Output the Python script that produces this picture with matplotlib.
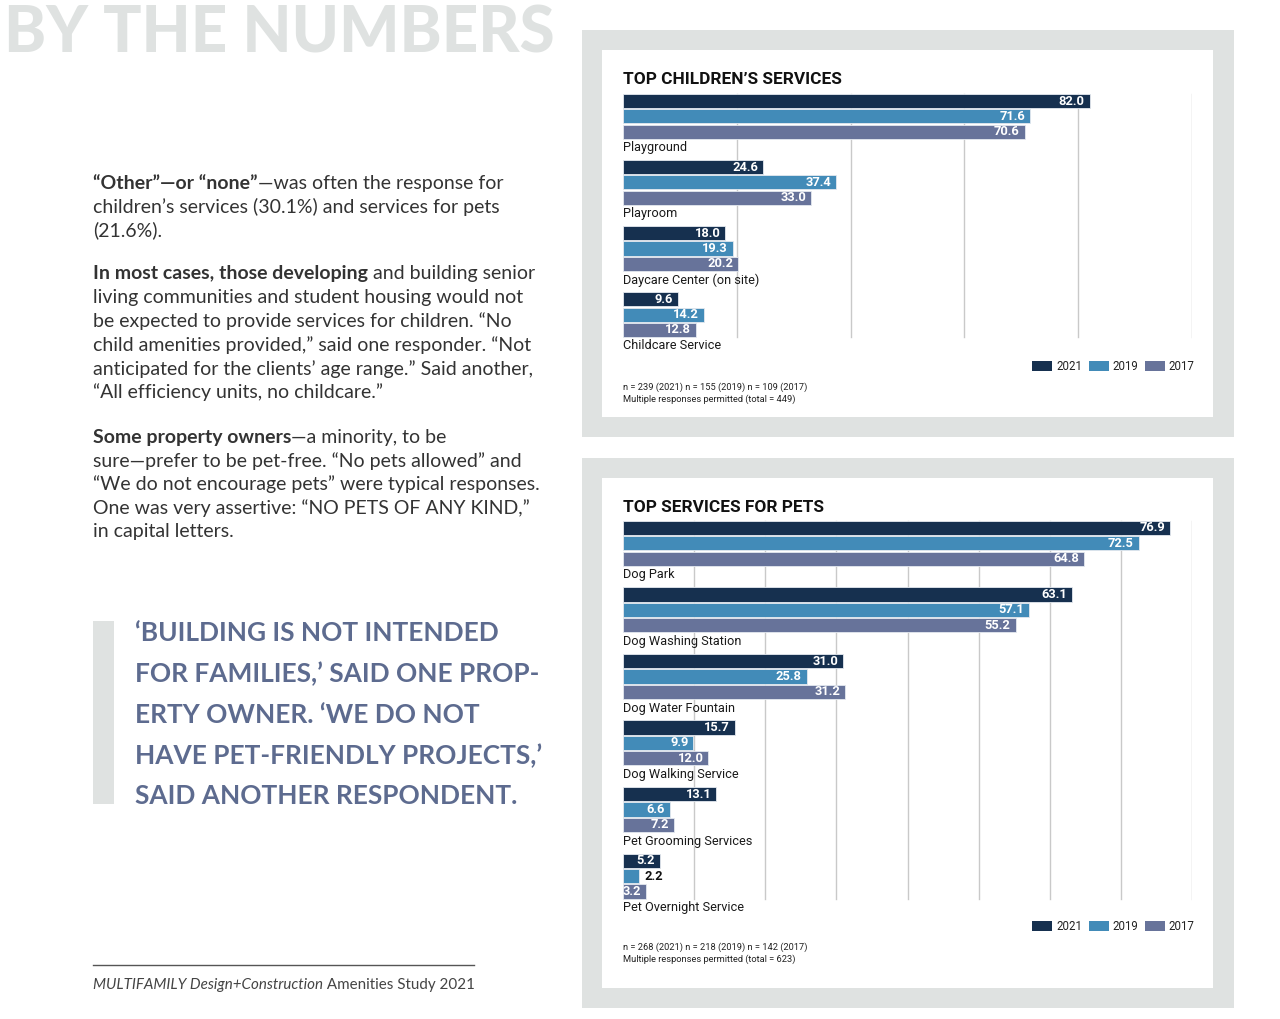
import matplotlib
matplotlib.use("Agg")
import matplotlib.pyplot as plt
from matplotlib.patches import Rectangle

# данные
years = ["2021", "2019", "2017"]
colors = ["#16304f", "#428bb8", "#67739a"]

kids_cats = ["Playground", "Playroom", "Daycare Center (on site)", "Childcare Service"]
kids_2021 = [82.0, 24.6, 18.0, 9.6]
kids_2019 = [71.6, 37.4, 19.3, 14.2]
kids_2017 = [70.6, 33.0, 20.2, 12.8]

pets_cats = ["Dog Park", "Dog Washing Station", "Dog Water Fountain",
             "Dog Walking Service", "Pet Grooming Services", "Pet Overnight Service"]
pets_2021 = [76.9, 63.1, 31.0, 15.7, 13.1, 5.2]
pets_2019 = [72.5, 57.1, 25.8, 9.9, 6.6, 2.2]
pets_2017 = [64.8, 55.2, 31.2, 12.0, 7.2, 3.2]

W, H = 1280, 1019
fig = plt.figure(figsize=(W / 100, H / 100), dpi=100)
fig.patch.set_facecolor("white")

# фон в пиксельных координатах
bg = fig.add_axes([0, 0, 1, 1], zorder=0)
bg.set_xlim(0, W)
bg.set_ylim(H, 0)
bg.axis("off")

BODY = "Lato"
CHART = "Roboto"
GRAY = "#dfe2e1"

bg.text(4, 52, "BY THE NUMBERS", fontsize=45.8, fontweight="black", family=BODY,
        color=GRAY, va="baseline", ha="left")

# панели
for y0, y1 in [(30, 437), (458, 1008)]:
    bg.add_patch(Rectangle((582, y0), 652, y1 - y0, color=GRAY, lw=0))
    bg.add_patch(Rectangle((602, y0 + 20), 611, y1 - y0 - 40, color="white", lw=0))

fig.canvas.draw()
renderer = fig.canvas.get_renderer()


def runs(x, y, parts, size, color="#333333", family=BODY):
    for txt, weight, style in parts:
        t = bg.text(x, y, txt, fontsize=size, fontweight=weight, style=style,
                    family=family, color=color, va="center", ha="left")
        x += t.get_window_extent(renderer).width


# основной текст
body_size = 14.0
paras = [
    (183, [[("“Other”—or “none”", "bold", "normal"), ("—was often the response for", "normal", "normal")],
           [("children’s services (30.1%) and services for pets", "normal", "normal")],
           [("(21.6%).", "normal", "normal")]]),
    (274, [[("In most cases, those developing", "bold", "normal"), (" and building senior", "normal", "normal")],
           [("living communities and student housing would not", "normal", "normal")],
           [("be expected to provide services for children. “No", "normal", "normal")],
           [("child amenities provided,” said one responder. “Not", "normal", "normal")],
           [("anticipated for the clients’ age range.” Said another,", "normal", "normal")],
           [("“All efficiency units, no childcare.”", "normal", "normal")]]),
    (437, [[("Some property owners", "bold", "normal"), ("—a minority, to be", "normal", "normal")],
           [("sure—prefer to be pet-free. “No pets allowed” and", "normal", "normal")],
           [("“We do not encourage pets” were typical responses.", "normal", "normal")],
           [("One was very assertive: “NO PETS OF ANY KIND,”", "normal", "normal")],
           [("in capital letters.", "normal", "normal")]]),
]
for y0, lines in paras:
    for i, parts in enumerate(lines):
        runs(93, y0 + i * 23.7, parts, body_size)

# цитата
bg.add_patch(Rectangle((93, 621), 21, 183, color=GRAY, lw=0))
quote = ["‘BUILDING IS NOT INTENDED", "FOR FAMILIES,’ SAID ONE PROP-",
         "ERTY OWNER. ‘WE DO NOT", "HAVE PET-FRIENDLY PROJECTS,’",
         "SAID ANOTHER RESPONDENT."]
for i, q in enumerate(quote):
    bg.text(135, 633 + i * 40.8, q, fontsize=18.9, fontweight="bold", family=BODY,
            color="#5d6b8f", va="center", ha="left")

# подпись
bg.plot([93, 474], [965, 965], color="#555555", lw=1)
runs(93, 985, [("MULTIFAMILY Design+Construction", "normal", "italic"),
               (" Amenities Study 2021", "normal", "normal")], 10.9, color="#444444")


def chart(title, title_y, cats, series, xmax, step, top_px, pitch, notes, legend_y):
    G = 4.32
    n = len(cats)
    bottom = (n - 1) * G + 3.6
    height_px = (bottom + 0.5) * pitch
    ax = fig.add_axes([623 / W, 1 - (top_px + height_px) / H, (1192 - 623) / W, height_px / H],
                      zorder=1)
    ax.set_xlim(0, xmax)
    ax.set_ylim(bottom, -0.5)
    ax.axis("off")
    ax.patch.set_alpha(0)

    last = (n - 1) * G + 2.46
    for gx in range(step, xmax + 1, step):
        ax.plot([gx, gx], [-0.46, last], color="#c9c9c9", lw=1, zorder=0)

    for k, vals in enumerate(series):
        for i, v in enumerate(vals):
            y = i * G + k
            ax.barh(y, v, height=0.92, color=colors[k], edgecolor="#e4e9ef", lw=0.6, zorder=2)
            if v < 3:
                ax.annotate(f"{v:.1f}", (v, y), xytext=(4, 0), textcoords="offset points",
                            ha="left", va="center", fontsize=9.3, fontweight="bold",
                            family=CHART, color="#111111", zorder=3)
            else:
                ax.annotate(f"{v:.1f}", (v, y), xytext=(-3.5, 0), textcoords="offset points",
                            ha="right", va="center", fontsize=9.3, fontweight="bold",
                            family=CHART, color="white", zorder=3)
    for i, c in enumerate(cats):
        ax.text(0, i * G + 3.05, c, ha="left", va="center", fontsize=9.2,
                family=CHART, color="#1a1a1a", zorder=3)

    bg.text(623, title_y, title, fontsize=12.4, fontweight="bold", family=CHART,
            color="#111111", va="center", ha="left")

    for (sx, tx), yr, col in zip([(1032, 1056), (1089, 1112), (1145, 1168)], years, colors):
        bg.add_patch(Rectangle((sx, legend_y - 5), 20, 10, color=col, lw=0))
        bg.text(tx, legend_y, yr, fontsize=8.3, family=CHART, color="#222222",
                va="center", ha="left")
    for j, nt in enumerate(notes):
        bg.text(623, legend_y + 21 + j * 12.5, nt, fontsize=6.7, family=CHART,
                color="#222222", va="center", ha="left")


chart("TOP CHILDREN’S SERVICES", 79, kids_cats, [kids_2021, kids_2019, kids_2017],
      100, 20, 94 - 0.5 * 15.3 + 7, 15.3,
      ["n = 239 (2021) n = 155 (2019) n = 109 (2017)",
       "Multiple responses permitted (total = 449)"], 366)

chart("TOP SERVICES FOR PETS", 507, pets_cats, [pets_2021, pets_2019, pets_2017],
      80, 10, 521 - 0.5 * 15.4 + 7, 15.4,
      ["n = 268 (2021) n = 218 (2019) n = 142 (2017)",
       "Multiple responses permitted (total = 623)"], 926)

fig.savefig("out.png", dpi=100)
